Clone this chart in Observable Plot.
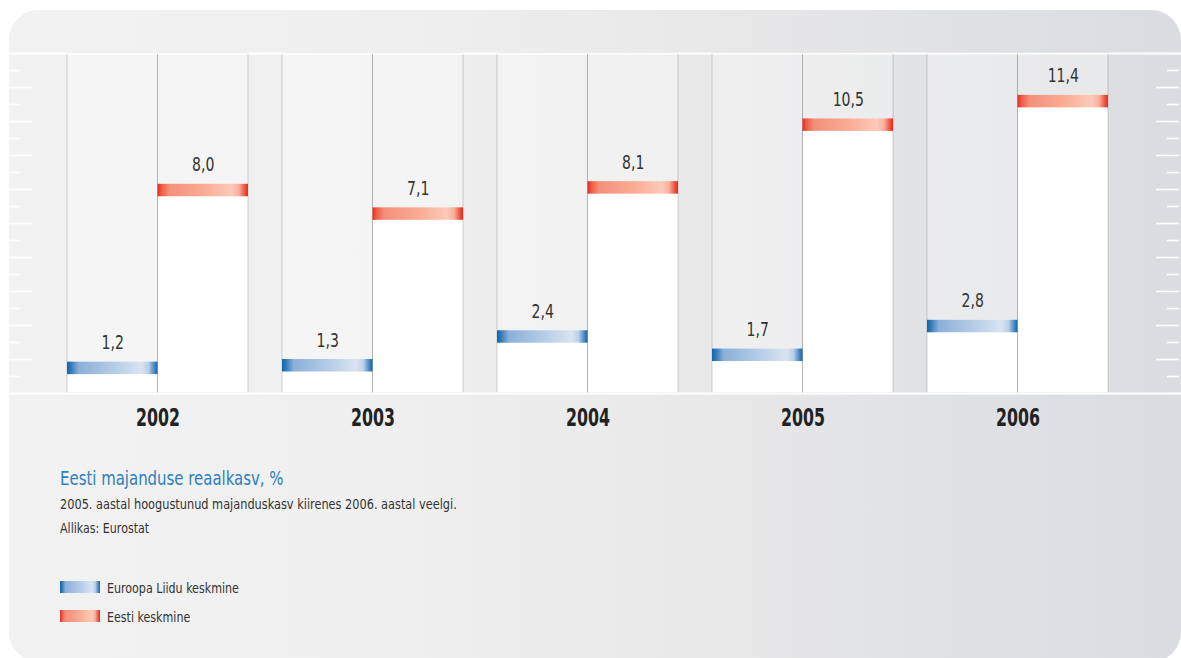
<!DOCTYPE html>
<html>
<head>
<meta charset="utf-8">
<script src="https://cdn.jsdelivr.net/npm/d3@7"></script>
<script src="https://cdn.jsdelivr.net/npm/@observablehq/plot@0.6"></script>
<style>
  html, body { margin: 0; padding: 0; background: #ffffff; }
  #wrap { position: relative; width: 1181px; height: 658px; overflow: hidden;
          font-family: "Liberation Sans Narrow", "DejaVu Sans Condensed", "Roboto", sans-serif; }
  #card { position: absolute; left: 9px; top: 10px; width: 1172px; height: 652px; border-radius: 30px;
          background: linear-gradient(to right, #f2f2f2 0%, #efefef 35%, #e8e8e9 60%, #e1e2e4 78%, #dbdce0 100%); }
  #chart { position: absolute; left: 0; top: 0; }
  .t { position: absolute; white-space: nowrap; line-height: 1; transform-origin: 0 50%; transform: scaleX(0.88); }
  .sw { position: absolute; width: 40px; height: 12px; }
</style>
</head>
<body>
<div id="wrap">
  <div id="card"></div>
  <div id="chart"></div>
  <div class="t" id="title" style="left:60px;top:468px;font-size:20px;color:#2f7fc0;transform:scaleX(0.83);"></div>
  <div class="t" id="sub" style="left:60px;top:497px;font-size:14px;color:#333;transform:scaleX(0.9);"></div>
  <div class="t" id="src" style="left:60px;top:521px;font-size:14px;color:#333;"></div>
  <div class="sw" style="left:60px;top:581px;background:linear-gradient(to right,#1565ab 0%,#2f78b8 5%,#8cb0d8 14%,#b3cbe6 50%,#d9e4f2 80%,#bcd0e8 88%,#4f8cc5 95%,#1565ab 100%);"></div>
  <div class="t" id="leg1" style="left:107px;top:581px;font-size:14px;color:#333;"></div>
  <div class="sw" style="left:60px;top:610px;background:linear-gradient(to right,#e8281e 0%,#ee5a44 5%,#f4907a 14%,#f9ab93 50%,#fdcab8 80%,#f8b09c 88%,#ee5a44 95%,#e8281e 100%);"></div>
  <div class="t" id="leg2" style="left:107px;top:610px;font-size:14px;color:#333;"></div>
</div>
<script>
// ---- data ----
const years = ["2002", "2003", "2004", "2005", "2006"];
const euValues = [1.2, 1.3, 2.4, 1.7, 2.8];
const eeValues = [8.0, 7.1, 8.1, 10.5, 11.4];
const seriesNames = ["Euroopa Liidu keskmine", "Eesti keskmine"];
const titleText = "Eesti majanduse reaalkasv, %";
const subtitleText = "2005. aastal hoogustunud majanduskasv kiirenes 2006. aastal veelgi.";
const sourceText = "Allikas: Eurostat";
const yTickStep = 0.65;

document.getElementById("title").textContent = titleText;
document.getElementById("sub").textContent = subtitleText;
document.getElementById("src").textContent = sourceText;
document.getElementById("leg1").textContent = seriesNames[0];
document.getElementById("leg2").textContent = seriesNames[1];

const FONT = '"Liberation Sans Narrow", "DejaVu Sans Condensed", "Roboto", sans-serif';
const fmt = v => d3.format(".1f")(v).replace(".", ",");

const eu = years.map((y, i) => ({year: y, v: euValues[i]}));
const ee = years.map((y, i) => ({year: y, v: eeValues[i]}));

const width = 1181, height = 440;
const mL = 9, mR = 0, mT = 53, mB = 47;
const pInner = 0.16, pOuter = 0.2993, align = 0.442;
const step = (width - mL - mR) / (years.length - pInner + 2 * pOuter);
const half = step * (1 - pInner) / 2;
const frameW = width - mL - mR;

const ticks = d3.range(1, 20).map(k => k * yTickStep);
const longTicks = ticks.filter((d, k) => (k + 1) % 2 === 0);
const shortTicks = ticks.filter((d, k) => (k + 1) % 2 === 1);

const chart = Plot.plot({
  width, height,
  marginTop: mT, marginBottom: mB, marginLeft: mL, marginRight: mR,
  style: {background: "transparent", fontFamily: FONT, overflow: "visible"},
  x: {type: "band", domain: years, paddingInner: pInner, paddingOuter: pOuter, align, axis: null},
  y: {domain: [0, 13], axis: null},
  marks: [
    Plot.barY(years, {x: d => d, y1: 0, y2: 13, fill: "white", fillOpacity: 0.33}),
    Plot.barY(eu, {x: "year", y1: 0, y2: "v", fill: "white", insetRight: half}),
    Plot.barY(ee, {x: "year", y1: 0, y2: "v", fill: "white", insetLeft: half}),
    Plot.barY(years, {x: d => d, y1: 0, y2: 13, fill: "none", stroke: "#7a7a7a", strokeOpacity: 0.32, insetRight: half}),
    Plot.barY(years, {x: d => d, y1: 0, y2: 13, fill: "none", stroke: "#7a7a7a", strokeOpacity: 0.32, insetLeft: half}),
    Plot.barY(eu, {x: "year", y1: "v", y2: "v", insetBottom: -12.5, fill: "url(#gEU)", insetRight: half}),
    Plot.barY(ee, {x: "year", y1: "v", y2: "v", insetBottom: -12.5, fill: "url(#gEE)", insetLeft: half}),
    Plot.text(eu, {x: "year", y: "v", text: d => fmt(d.v), dx: -half / 2, dy: -13, lineAnchor: "bottom", fontSize: 20, fill: "#333", className: "vlab"}),
    Plot.text(ee, {x: "year", y: "v", text: d => fmt(d.v), dx: half / 2, dy: -13, lineAnchor: "bottom", fontSize: 20, fill: "#333", className: "vlab"}),
    Plot.ruleY([0, 13], {stroke: "white", strokeWidth: 2}),
    Plot.ruleY(longTicks, {stroke: "white", strokeWidth: 1.6, insetRight: frameW - 23}),
    Plot.ruleY(shortTicks, {stroke: "white", strokeWidth: 1.6, insetRight: frameW - 11}),
    Plot.ruleY(longTicks, {stroke: "white", strokeWidth: 1.6, insetLeft: frameW - 25, insetRight: 2}),
    Plot.ruleY(shortTicks, {stroke: "white", strokeWidth: 1.6, insetLeft: frameW - 14, insetRight: 2}),
    Plot.axisX({anchor: "bottom", tickSize: 0, tickPadding: 15, fontSize: 24, fontWeight: "bold", fill: "#222", label: null, className: "ylab"})
  ]
});

const defs = d3.select(chart).insert("defs", ":first-child");
function grad(id, stops) {
  const g = defs.append("linearGradient").attr("id", id).attr("x1", 0).attr("x2", 1).attr("y1", 0).attr("y2", 0);
  stops.forEach(([o, c]) => g.append("stop").attr("offset", o).attr("stop-color", c));
}
grad("gEU", [[0, "#1565ab"], [0.04, "#2f78b8"], [0.13, "#8cb0d8"], [0.5, "#b3cbe6"], [0.82, "#d9e4f2"], [0.9, "#bcd0e8"], [0.96, "#4f8cc5"], [1, "#1565ab"]]);
grad("gEE", [[0, "#e8281e"], [0.04, "#ee5a44"], [0.13, "#f4907a"], [0.5, "#f9ab93"], [0.82, "#fdcab8"], [0.9, "#f8b09c"], [0.96, "#ee5a44"], [1, "#e8281e"]]);

document.getElementById("chart").appendChild(chart);

// condense SVG text to match the narrow typeface of the original
function condense(selector, k) {
  d3.select(chart).selectAll(selector).selectAll("text").each(function () {
    const w = this.getComputedTextLength();
    this.setAttribute("textLength", (w * k).toFixed(2));
    this.setAttribute("lengthAdjust", "spacingAndGlyphs");
  });
}
condense("g.vlab", 0.78);
condense("g.ylab", 0.73);
</script>
</body>
</html>
